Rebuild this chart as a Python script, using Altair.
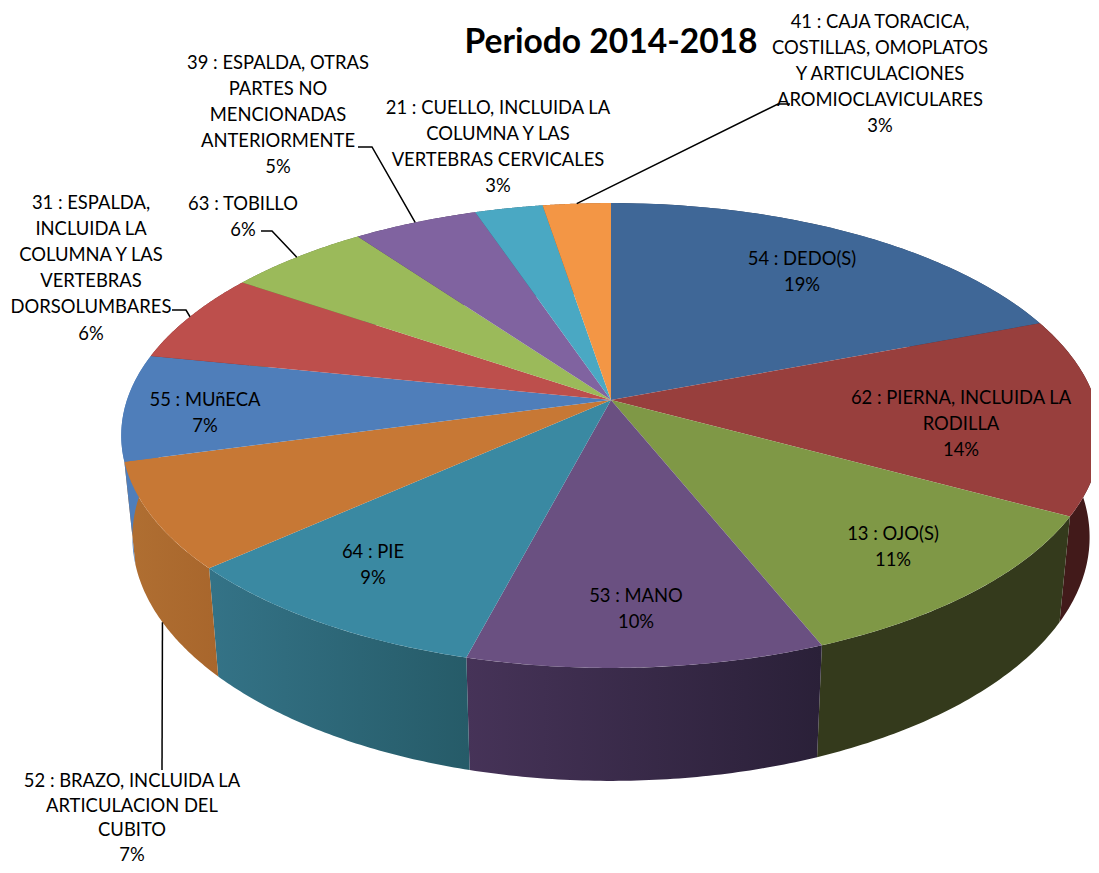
import numpy as np
import pandas as pd
import altair as alt

# ---- chart values -------------------------------------------------------
values = [19.2, 13.7, 11.0, 10.2, 9.3, 7.4, 7.4, 6.3, 5.5, 4.8, 2.6, 2.6]
top_colors = ["#3F6797", "#983F3D", "#7F9846", "#6A5081", "#3A89A2", "#C77835",
              "#4F7EBA", "#BD4F4C", "#9BBA5A", "#8063A0", "#4AA8C3", "#F39645"]
wall_left = ["#2A3F5C", "#421A1A", "#343A1C", "#463358", "#347387", "#B06F32",
             "#4F7EBA", "#732F2E", "#5E7137", "#4E3C61", "#2D6677", "#94592A"]
wall_right = ["#2A3F5C", "#421A1A", "#343A1C", "#2A2038", "#265B68", "#A8662C",
              "#4F7EBA", "#732F2E", "#5E7137", "#4E3C61", "#2D6677", "#94592A"]

label_lines = [["54 : DEDO(S)", "19%"],
               ["62 : PIERNA, INCLUIDA LA", "RODILLA", "14%"],
               ["13 : OJO(S)", "11%"],
               ["53 : MANO", "10%"],
               ["64 : PIE", "9%"],
               ["52 : BRAZO, INCLUIDA LA", "ARTICULACION DEL", "CUBITO", "7%"],
               ["55 : MUñECA", "7%"],
               ["31 : ESPALDA,", "INCLUIDA LA", "COLUMNA Y LAS", "VERTEBRAS", "DORSOLUMBARES", "6%"],
               ["63 : TOBILLO", "6%"],
               ["39 : ESPALDA, OTRAS", "PARTES NO", "MENCIONADAS", "ANTERIORMENTE", "5%"],
               ["21 : CUELLO, INCLUIDA LA", "COLUMNA Y LAS", "VERTEBRAS CERVICALES", "3%"],
               ["41 : CAJA TORACICA,", "COSTILLAS, OMOPLATOS", "Y ARTICULACIONES", "AROMIOCLAVICULARES", "3%"]]

# ---- layout (text anchors in picture pixels) ----------------------------
label_x = [802, 961, 893, 636, 373, 132, 205, 91, 243, 278, 498, 880]
label_y = [258.5, 397.5, 533.5, 595.5, 551.5, 781, 399.5, 202.5, 203.5, 62.5, 107.5, 21.5]
label_lh = [26.2, 26.2, 26.2, 26.2, 26.2, 24.6, 26.2, 26.2, 26.2, 26.2, 26.2, 26.2]
FONT = "Lato"
FONT_SIZE = 18.4
W, H = 1083, 857

# leader lines: slice index, elbow points, and whether they start on the lower rim
leaders = [(5, [(162, 770)], True),
           (7, [(186, 310), (172, 310)], False),
           (8, [(272, 231), (261, 231)], False),
           (9, [(372, 147), (358, 147)], False),
           (11, [(778, 104), (790, 104)], False)]

# ---- perspective projection of the pie disc -----------------------------
CX, K = 611, 0.1527
TOP = dict(a=484, b=227, y0=400)
BOT = dict(a=473, b=238, y0=500)


def project(theta, plane, r=1.0):
    d = 1 + K * r * np.cos(theta)
    return CX + plane["a"] * r * np.sin(theta) / d, plane["y0"] - plane["b"] * r * np.cos(theta) / d


cum = np.concatenate([[0], np.cumsum(values)]) / sum(values) * 2 * np.pi

X = alt.X("x:Q", scale=alt.Scale(domain=[8, 8 + W], nice=False, zero=False), axis=None)
Y = alt.Y("y:Q", scale=alt.Scale(domain=[8 + H, 8], nice=False, zero=False), axis=None)
ORDER = alt.Order("i:Q")


def polygon(xs, ys):
    return pd.DataFrame({"x": xs, "y": ys, "i": np.arange(len(xs))})


layers = []
for k in range(len(values)):
    th = np.linspace(cum[k], cum[k + 1], 60)
    tx, ty = project(th, TOP)
    bx, by = project(th[::-1], BOT)
    wall = polygon(np.concatenate([tx, bx]), np.concatenate([ty, by]))
    grad = alt.Gradient(gradient="linear", x1=0, x2=1, y1=0, y2=0,
                        stops=[alt.GradientStop(color=wall_left[k], offset=0),
                               alt.GradientStop(color=wall_right[k], offset=1)])
    layers.append(alt.Chart(wall).mark_line(fill=grad, strokeWidth=0, clip=True).encode(x=X, y=Y, order=ORDER))

for k in range(len(values)):
    th = np.linspace(cum[k], cum[k + 1], 80)
    tx, ty = project(th, TOP)
    hx, hy = project(0.0, TOP, r=0.0)
    top = polygon(np.concatenate([[hx], tx, [hx]]), np.concatenate([[hy], ty, [hy]]))
    layers.append(alt.Chart(top).mark_line(fill=top_colors[k], strokeWidth=0, clip=True).encode(x=X, y=Y, order=ORDER))

for idx, elbows, lower in leaders:
    sx, sy = project((cum[idx] + cum[idx + 1]) / 2, BOT if lower else TOP)
    pts = [(sx, sy)] + elbows
    leader = polygon([p[0] for p in pts], [p[1] for p in pts])
    layers.append(alt.Chart(leader).mark_line(color="#000000", strokeWidth=1.5).encode(x=X, y=Y, order=ORDER))

rows = []
for lines, x0, y0, lh in zip(label_lines, label_x, label_y, label_lh):
    for n, line in enumerate(lines):
        rows.append({"x": x0, "y": y0 + n * lh, "t": line})
layers.append(alt.Chart(pd.DataFrame(rows)).mark_text(
    font=FONT, fontSize=FONT_SIZE, color="#000000", align="center", baseline="middle"
).encode(x=X, y=Y, text="t:N"))

title = pd.DataFrame({"x": [611], "y": [43], "t": ["Periodo 2014-2018"]})
layers.append(alt.Chart(title).mark_text(
    font=FONT, fontSize=33.6, fontWeight="bold", color="#000000", align="center", baseline="middle"
).encode(x=X, y=Y, text="t:N"))

chart = alt.layer(*layers).properties(
    width=W, height=H, padding=0,
    autosize=alt.AutoSizeParams(type="none"),
).configure_view(stroke=None)

chart.save("out.html", embed_options={"renderer": "svg", "actions": False})
